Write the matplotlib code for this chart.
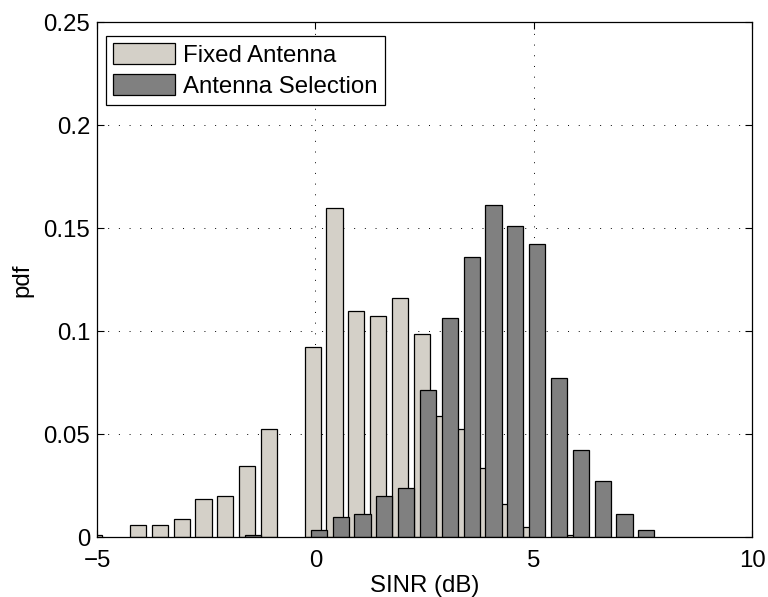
import matplotlib
matplotlib.use('Agg')
import matplotlib.pyplot as plt

plt.rcParams['font.family'] = ['Liberation Sans', 'DejaVu Sans']
plt.rcParams['font.size'] = 17.3

# bin centres (dB) and per-bin probability
fixed_x = [-5.06, -4.56, -4.06, -3.56, -3.06, -2.56, -2.06, -1.56, -1.06, -0.56,
           -0.06, 0.44, 0.94, 1.44, 1.94, 2.44, 2.94, 3.44, 3.94, 4.44, 4.94,
           5.44, 5.94]
fixed_pdf = [0.001, 0.0, 0.006, 0.006, 0.0087, 0.0186, 0.0199, 0.0348, 0.0524,
             0.0, 0.0924, 0.160, 0.1099, 0.1074, 0.1163, 0.0987, 0.0587, 0.0524,
             0.0336, 0.0162, 0.0049, 0.0, 0.0012]

sel_x = [-1.42, -0.92, -0.42, 0.08, 0.58, 1.08, 1.58, 2.08, 2.58, 3.08, 3.58,
         4.08, 4.58, 5.08, 5.58, 6.08, 6.58, 7.08, 7.58]
sel_pdf = [0.0011, 0.0, 0.0, 0.0037, 0.0099, 0.0112, 0.0199, 0.0238, 0.0714,
           0.1063, 0.1362, 0.1613, 0.1513, 0.1424, 0.0775, 0.0424, 0.0273,
           0.0112, 0.0037]

xticks = [-5, 0, 5, 10]
yticks = [0, 0.05, 0.1, 0.15, 0.2, 0.25]
ytick_labels = ['0', '0.05', '0.1', '0.15', '0.2', '0.25']


def nonzero(xs, ys):
    # empty bins get no outline
    pairs = [(x, y) for x, y in zip(xs, ys) if y > 0]
    return [p[0] for p in pairs], [p[1] for p in pairs]


fig = plt.figure(figsize=(7.68, 5.97), dpi=100)
ax = fig.add_axes([0.1263, 0.1, 0.8529, 0.8626])

fx, fy = nonzero(fixed_x, fixed_pdf)
sx, sy = nonzero(sel_x, sel_pdf)
ax.bar(fx, fy, width=0.37, color='#d4d0c8', edgecolor='black',
       linewidth=0.9, label='Fixed Antenna', zorder=2)
ax.bar(sx, sy, width=0.37, color='#808080', edgecolor='black',
       linewidth=0.9, label='Antenna Selection', zorder=3)

ax.set_xlim(-5, 10)
ax.set_ylim(0, 0.25)
ax.set_xticks(xticks)
ax.set_xticklabels(['\u22125', '0', '5', '10'])
ax.set_yticks(yticks)
ax.set_yticklabels(ytick_labels)
ax.tick_params(direction='in', length=5, width=0.8, top=True, right=True)
ax.tick_params(axis='x', pad=9)
ax.tick_params(axis='y', pad=5)
ax.grid(True, color='black', linestyle=(0, (1, 10)), linewidth=0.7, zorder=0)
ax.set_axisbelow(True)
for s in ax.spines.values():
    s.set_linewidth(0.9)
    s.set_zorder(5)

ax.set_xlabel('SINR (dB)', labelpad=2)
ax.set_ylabel('pdf', labelpad=7)

leg = ax.legend(loc='upper left', bbox_to_anchor=(0.014, 0.973), borderaxespad=0,
                fancybox=False, framealpha=1, edgecolor='black',
                handlelength=2.55, handleheight=0.95, handletextpad=0.35,
                labelspacing=0.3, borderpad=0.3)
leg.get_frame().set_linewidth(0.9)

fig.savefig('out.png', dpi=100)
